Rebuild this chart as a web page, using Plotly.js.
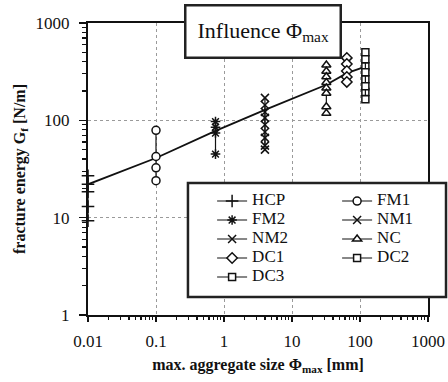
<!DOCTYPE html>
<html><head><meta charset="utf-8">
<script src="https://cdn.plot.ly/plotly-3.0.1.min.js"></script>
<style>body{margin:0;background:#fff}</style>
</head><body>
<div id="chart" style="width:448px;height:382px"></div>
<script>
// ---- data ----
const seriesNames = ['HCP','FM1','FM2','NM1','NM2','NC','DC1','DC2','DC3'];
const seriesX = [0.01, 0.1, 0.75, 4, 4, 32, 64, 120, 120];
const HCP = [27, 22, 18.5, 13, 9.3];
const FM1 = [79, 42.5, 32.5, 24];
const FM2 = [97, 85, 74, 45];
const NM1 = [170, 122, 90, 66, 50];
const NM2 = [144, 106, 76, 55];
const NC  = [370, 320, 280, 245, 215, 190, 138, 118];
const DC1 = [438, 379, 321, 279, 248];
const DC2 = [500, 360, 265, 195];
const DC3 = [425, 312, 224, 165];
const trendX = [0.01, 0.1, 0.75, 4, 32, 64, 120];
const trendY = [22, 41, 78, 128, 232, 305, 357];
const xTickVals = [0.01, 0.1, 1, 10, 100, 1000];
const xTickText = ['0.01','0.1','1','10','100','1000'];
const yTickVals = [1, 10, 100, 1000];
const yTickText = ['1','10','100','1000'];

// ---- styles ----
const seriesValues = [HCP, FM1, FM2, NM1, NM2, NC, DC1, DC2, DC3];
const symbols = ['cross-thin-open','circle','asterisk-open','x-thin-open','x-thin-open','triangle-up','diamond','square','square'];
const openSym = [true, false, true, true, true, false, false, false, false];
const sizes = [9, 8, 8, 8, 8, 8, 8, 7, 7];
const serif = "'Liberation Serif', 'Times New Roman', serif";
const ink = '#111';

const traces = [{
  x: trendX, y: trendY, mode: 'lines', showlegend: false,
  line: {color: ink, width: 1.8}, hoverinfo: 'skip', cliponaxis: false
}];
seriesNames.forEach((name, i) => {
  const ys = seriesValues[i];
  traces.push({
    name: '<span style="font-size:17px">' + name + '</span>',
    x: ys.map(() => seriesX[i]),
    y: ys,
    mode: 'lines+markers',
    cliponaxis: false,
    line: {color: ink, width: 1.2},
    marker: {symbol: symbols[i], size: sizes[i], color: openSym[i] ? ink : '#fff',
             line: {color: ink, width: 1.5}}
  });
});

const layout = {
  width: 448, height: 382,
  margin: {l: 88, r: 20, t: 23, b: 67, autoexpand: false},
  paper_bgcolor: '#fff', plot_bgcolor: '#fff',
  font: {family: serif, color: ink, size: 17},
  showlegend: true,
  xaxis: {
    type: 'log', range: [-2, 3],
    tickvals: xTickVals, ticktext: xTickText,
    ticks: 'outside', ticklen: 5, tickwidth: 1.2, tickcolor: ink,
    ticklabelstandoff: 5,
    minor: {ticks: 'outside', ticklen: 3, tickcolor: ink, dtick: 'D1', showgrid: false},
    showline: true, linecolor: ink, linewidth: 2, mirror: true,
    showgrid: true, gridcolor: '#9a9a9a', gridwidth: 1, griddash: 'dot',
    zeroline: false,
    tickfont: {family: serif, size: 17, color: ink},
    title: {text: 'max. aggregate size Φ<sub>max</sub> [mm]', standoff: 8,
            font: {family: serif, size: 16, color: ink, weight: 'bold'}}
  },
  yaxis: {
    type: 'log', range: [0, 3],
    tickvals: yTickVals, ticktext: yTickText,
    ticks: 'outside', ticklen: 7, tickwidth: 1.2, tickcolor: ink,
    ticklabelstandoff: 6,
    minor: {ticks: 'outside', ticklen: 4, tickcolor: ink, dtick: 'D1', showgrid: false},
    showline: true, linecolor: ink, linewidth: 2, mirror: true,
    showgrid: true, gridcolor: '#9a9a9a', gridwidth: 1, griddash: 'dot',
    zeroline: false,
    tickfont: {family: serif, size: 17, color: ink},
    title: {text: 'fracture energy G<sub>f</sub> [N/m]', standoff: 6,
            font: {family: serif, size: 16, color: ink, weight: 'bold'}}
  },
  legend: {
    orientation: 'h', x: 0.365, y: 0.44, xanchor: 'left', yanchor: 'top',
    bgcolor: 'rgba(0,0,0,0)', borderwidth: 0,
    entrywidth: 80, entrywidthmode: 'pixels',
    traceorder: 'normal',
    font: {family: serif, size: 10, color: ink}
  },
  shapes: [{
    type: 'rect', xref: 'paper', yref: 'paper', layer: 'above',
    x0: 0.294, x1: 1.053, y0: 0.0616, y1: 0.452,
    fillcolor: '#fff', line: {color: '#222', width: 2.5}
  }],
  annotations: [{
    xref: 'paper', yref: 'paper', x: 0.516, y: 0.972,
    xanchor: 'center', yanchor: 'middle', showarrow: false,
    text: 'Influence Φ<sub>max</sub>',
    font: {family: serif, size: 22, color: ink},
    bgcolor: '#fff', bordercolor: '#222', borderwidth: 2.5, borderpad: 11
  }]
};

Plotly.newPlot('chart', traces, layout, {displayModeBar: false, staticPlot: true});
</script>
</body></html>
